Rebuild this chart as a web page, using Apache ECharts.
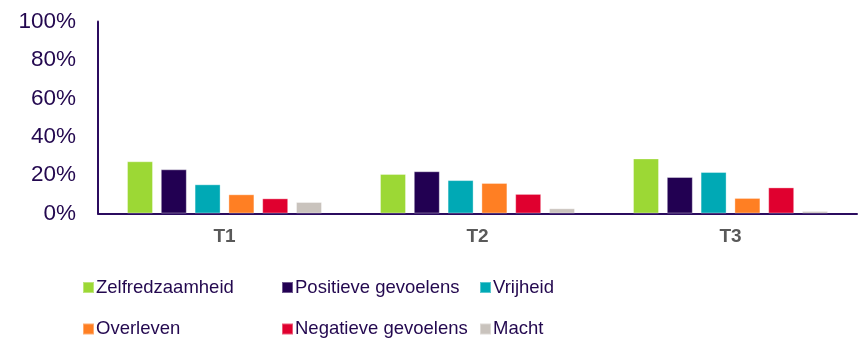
<!DOCTYPE html>
<html><head><meta charset="utf-8">
<script src="https://cdn.jsdelivr.net/npm/echarts@6/dist/echarts.min.js"></script>
<style>html,body{margin:0;padding:0;background:#fff}#c{width:861px;height:340px}</style>
</head><body><div id="c"></div>
<script>
var categories = ['T1', 'T2', 'T3'];
var seriesNames = ['Zelfredzaamheid', 'Positieve gevoelens', 'Vrijheid', 'Overleven', 'Negatieve gevoelens', 'Macht'];
var zelfredzaamheid = [27.2, 20.6, 28.7];
var positieve = [23.0, 22.0, 19.0];
var vrijheid = [15.2, 17.4, 21.6];
var overleven = [10.0, 15.9, 8.1];
var negatieve = [7.9, 10.2, 13.6];
var macht = [6.0, 2.7, 1.3];
var yTicks = [0, 20, 40, 60, 80, 100];
var colors = ['#9CD835', '#220052', '#00A9B5', '#FF7F23', '#E0002F', '#C9C3BD'];
var values = [zelfredzaamheid, positieve, vrijheid, overleven, negatieve, macht];
var axisColor = '#2B0C5F';
var txt = '#23084F';
var font = 'Liberation Sans, Arial, sans-serif';
var legendLeft = [82, 281, 479, 82, 281, 479];
var legendTop = [276.5, 276.5, 276.5, 318, 318, 318];
var chart = echarts.init(document.getElementById('c'));
chart.setOption({
  animation: false,
  grid: { left: 98, right: 4, top: 21.5, bottom: 126.5 },
  legend: seriesNames.map(function (n, i) {
    return {
      left: legendLeft[i], top: legendTop[i], itemWidth: 11, itemHeight: 11, padding: 0,
      icon: 'rect', data: [n],
      textStyle: { color: txt, fontSize: 18.5, fontFamily: font, lineHeight: 22, padding: [0, 0, 0, -3] }
    };
  }),
  xAxis: {
    type: 'category', data: categories,
    axisLine: { lineStyle: { color: axisColor, width: 2 } },
    axisTick: { show: false },
    axisLabel: { color: '#595959', fontSize: 19, fontWeight: 'bold', fontFamily: font, margin: 14 }
  },
  yAxis: {
    type: 'value', min: yTicks[0], max: yTicks[yTicks.length - 1], interval: 20,
    axisLine: { show: true, lineStyle: { color: axisColor, width: 2 } },
    axisTick: { show: false },
    splitLine: { show: false },
    axisLabel: { color: txt, fontSize: 22.5, fontFamily: font, margin: 22, formatter: '{value}%' }
  },
  series: seriesNames.map(function (n, i) {
    return {
      name: n, type: 'bar', data: values[i], barWidth: 26, barGap: '30%',
      itemStyle: { color: colors[i], borderColor: 'rgba(255,255,255,0.35)', borderWidth: 1 }
    };
  })
});
</script></body></html>
